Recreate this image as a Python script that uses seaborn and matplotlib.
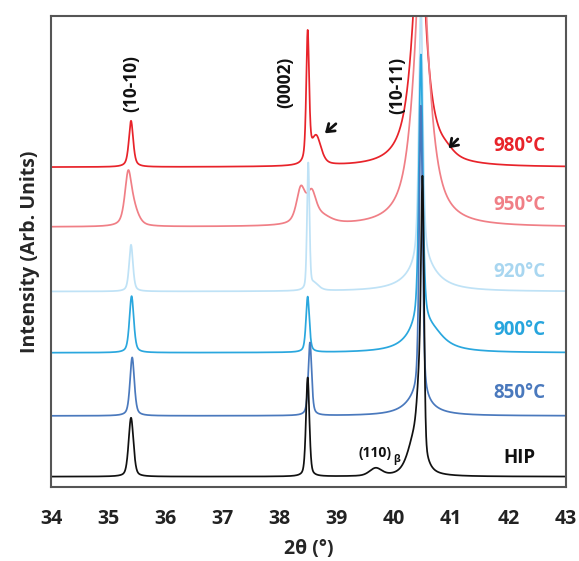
import numpy as np
import pandas as pd
import matplotlib
matplotlib.use("Agg")
import matplotlib.pyplot as plt
import seaborn as sns

# ---------------- data ----------------
samples = ["980°C", "950°C", "920°C", "900°C", "850°C", "HIP"]
offsets = [67.9, 55.2, 41.5, 28.5, 15.1, 2.2]
colors = ["#e8232a", "#f07f86", "#bfe2f6", "#2aa7de", "#4a79bd", "#111111"]
label_colors = ["#e8232a", "#f07f86", "#a8d6f0", "#27a5dd", "#4a79bd", "#111111"]
label_y = [72.3, 59.9, 45.7, 33.3, 20.0, 6.2]

# peak tables per sample: centre (deg), height, FWHM (deg), Lorentz fraction
peak_pos = {
    "980°C": [35.40, 38.49, 38.64, 40.44, 40.47, 40.92],
    "950°C": [35.35, 35.45, 38.37, 38.56, 38.75, 40.48, 40.48],
    "920°C": [35.40, 38.50, 38.60, 40.47, 40.50],
    "900°C": [35.41, 38.49, 40.47, 40.45, 40.70],
    "850°C": [35.42, 38.53, 40.47, 40.42],
    "HIP":   [35.40, 38.49, 39.68, 40.38, 40.45, 40.50],
}
peak_h = {
    "980°C": [9.8, 27.3, 6.0, 46.0, 20.0, 1.0],
    "950°C": [10.5, 3.0, 7.3, 6.0, 1.5, 50.0, 25.0],
    "920°C": [9.9, 26.5, 1.5, 56.0, 6.0],
    "900°C": [12.0, 11.8, 57.0, 5.0, 2.5],
    "850°C": [12.4, 15.5, 62.0, 4.0],
    "HIP":   [12.5, 21.0, 1.6, 9.0, 14.0, 51.0],
}
peak_w = {
    "980°C": [0.09, 0.06, 0.20, 0.31, 0.08, 0.30],
    "950°C": [0.14, 0.20, 0.18, 0.19, 0.40, 0.36, 0.10],
    "920°C": [0.08, 0.05, 0.20, 0.08, 0.60],
    "900°C": [0.09, 0.07, 0.08, 0.50, 0.50],
    "850°C": [0.09, 0.07, 0.07, 0.50],
    "HIP":   [0.10, 0.07, 0.25, 0.30, 0.10, 0.06],
}
peak_eta = {
    "980°C": [0.6, 0.5, 0.5, 1.0, 0.5, 0.5],
    "950°C": [0.6, 0.5, 0.6, 0.6, 0.8, 0.9, 0.5],
    "920°C": [0.5, 0.3, 0.5, 0.6, 1.0],
    "900°C": [0.5, 0.5, 0.5, 1.0, 1.0],
    "850°C": [0.5, 0.5, 0.5, 1.0],
    "HIP":   [0.4, 0.4, 0.3, 0.6, 0.4, 0.2],
}

peak_labels = ["(10-10)", "(0002)", "(10-11)"]
peak_label_x = [35.40, 38.09, 40.05]
peak_label_y = [85.6, 86.0, 85.3]

x_ticks = [34, 35, 36, 37, 38, 39, 40, 41, 42, 43]

# ---------------- build the profiles ----------------
two_theta = np.linspace(34.0, 43.0, 3601)


def pseudo_voigt(x, c, h, w, eta):
    lor = 1.0 / (1.0 + ((x - c) / (w / 2.0)) ** 2)
    gau = np.exp(-4.0 * np.log(2.0) * ((x - c) / w) ** 2)
    return h * (eta * lor + (1.0 - eta) * gau)


frames = []
for s, off in zip(samples, offsets):
    y = np.full_like(two_theta, off)
    for c, h, w, e in zip(peak_pos[s], peak_h[s], peak_w[s], peak_eta[s]):
        y = y + pseudo_voigt(two_theta, c, h, w, e)
    frames.append(pd.DataFrame({"two_theta": two_theta, "intensity": y, "sample": s}))
df = pd.concat(frames, ignore_index=True)

# ---------------- plot ----------------
sns.set_style("white")
plt.rcParams["font.family"] = ["Open Sans", "DejaVu Sans"]

fig = plt.figure(figsize=(5.79, 5.61), dpi=100)
ax = fig.add_axes([51 / 579, 1 - 487 / 561, 514.5 / 579, 471 / 561])

sns.lineplot(data=df, x="two_theta", y="intensity", hue="sample",
             hue_order=samples, palette=colors, legend=False,
             linewidth=1.25, estimator=None, sort=False, ax=ax)

ax.set_xlim(34, 43)
ax.set_ylim(0, 100)
ax.set_xticks(x_ticks)
ax.set_xticks(np.arange(34.5, 43, 1.0), minor=True)
ax.set_yticks([])
ax.tick_params(axis="x", which="major", length=9, width=1.5, color="#555555",
               direction="out", pad=7, labelsize=14, labelcolor="#222222")
ax.tick_params(axis="x", which="minor", length=5, width=1.5, color="#555555",
               direction="out")
for lab in ax.get_xticklabels():
    lab.set_fontweight("bold")
for sp in ax.spines.values():
    sp.set_color("#555555")
    sp.set_linewidth(1.5)
    sp.set_visible(True)

ax.set_xlabel("2θ (°)", fontsize=14, fontweight="bold", labelpad=7)
ax.set_ylabel("Intensity (Arb. Units)", fontsize=14, fontweight="bold", labelpad=8)

for s, c, yy in zip(samples, label_colors, label_y):
    ax.text(42.2, yy, s, color=c, fontsize=13.5, fontweight="bold",
            ha="center", va="center")

for t, xx, yy in zip(peak_labels, peak_label_x, peak_label_y):
    ax.text(xx, yy, t, rotation=90, fontsize=12.5, fontweight="bold",
            ha="center", va="center", color="#111111")

ax.text(39.96, 7.3, "(110)", fontsize=10, fontweight="bold",
        ha="right", va="center", color="#111111")
ax.text(39.98, 5.9, "β", fontsize=7.5, fontweight="bold",
        ha="left", va="center", color="#111111")

arrow_kw = dict(arrowstyle="->,head_length=0.5,head_width=0.35", lw=2.0, color="#111111")
ax.annotate("", xy=(38.755, 74.7), xytext=(39.02, 77.5), arrowprops=arrow_kw)
ax.annotate("", xy=(40.92, 71.5), xytext=(41.15, 74.3), arrowprops=arrow_kw)

fig.savefig("out.png", dpi=100)
